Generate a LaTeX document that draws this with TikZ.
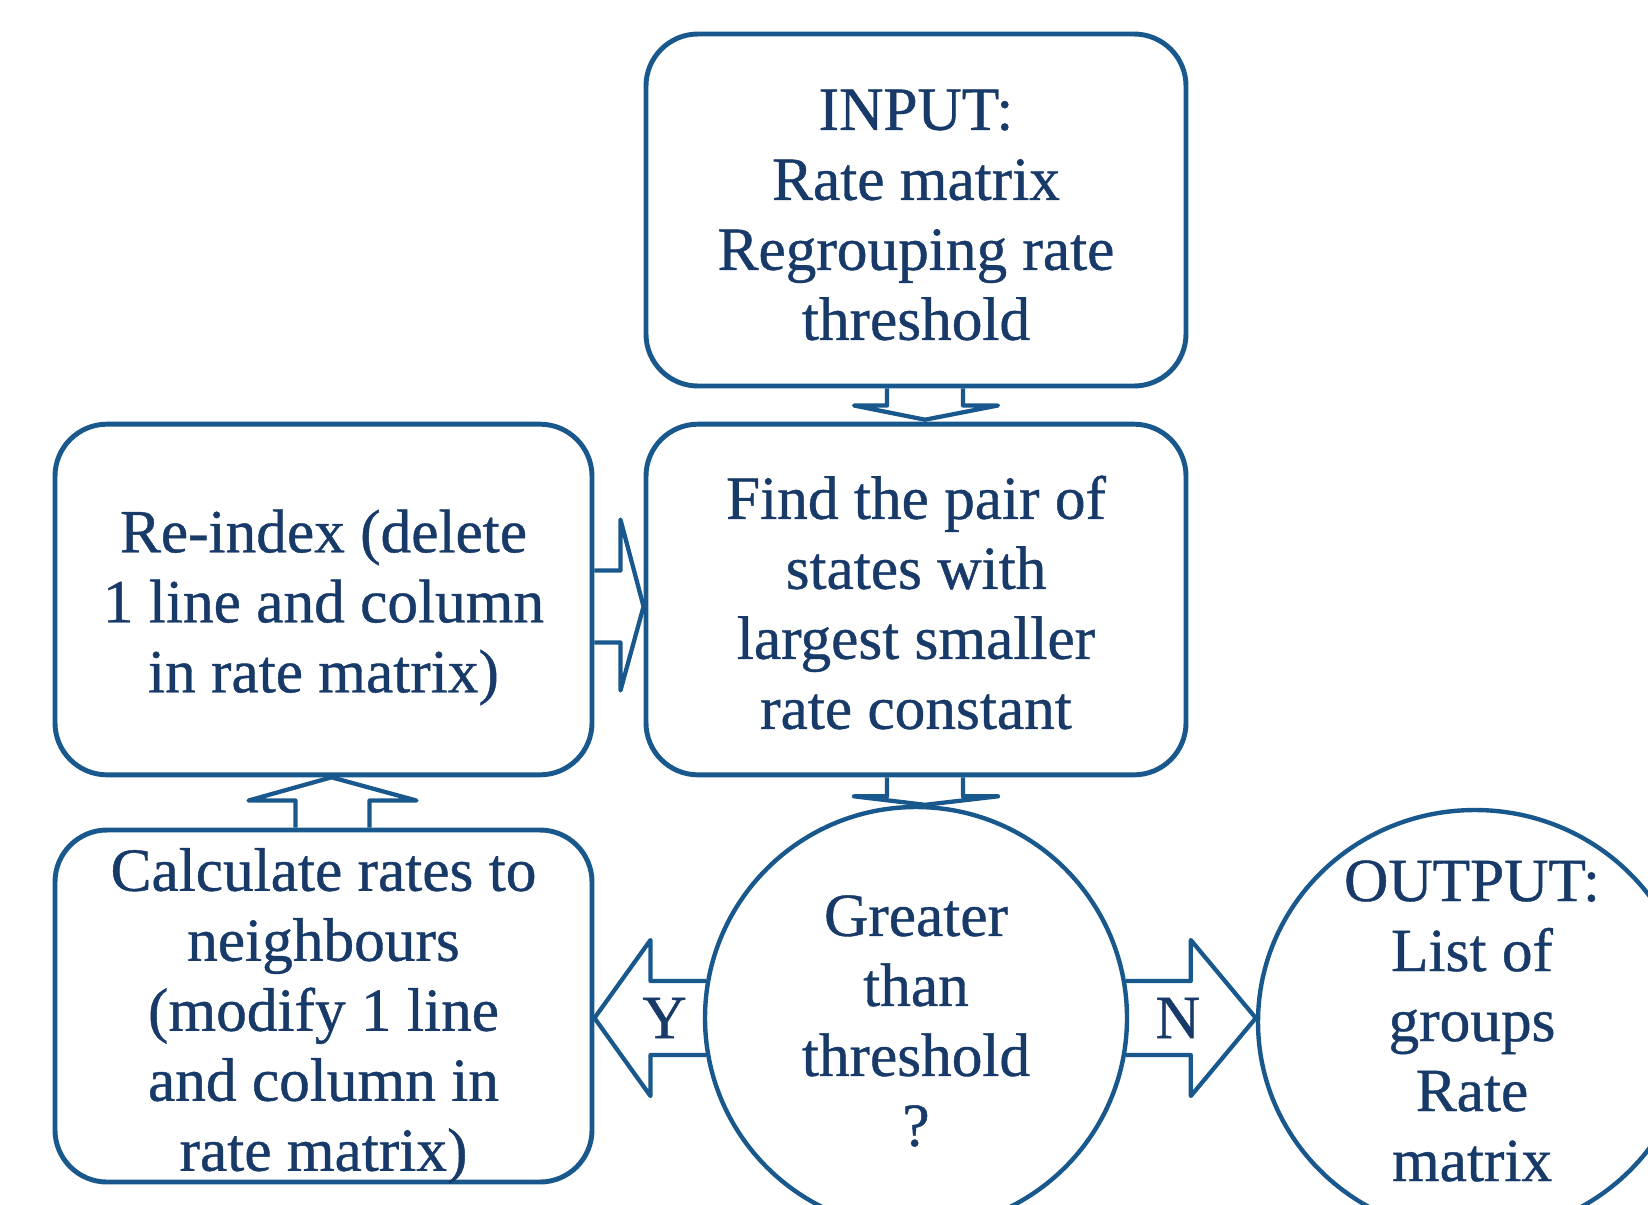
\documentclass[tikz,border=0pt]{standalone}
\usepackage{fontspec}
\setmainfont{Liberation Serif}
\newfontfamily\diagfont{Liberation Serif}[FakeBold=0.7]
\usetikzlibrary{calc,shapes.geometric}
\definecolor{edgeblue}{RGB}{24,88,140}
\definecolor{textblue}{RGB}{24,58,104}
\begin{document}
\begin{tikzpicture}[x=0.75pt,y=-0.75pt,
  txt/.style={align=center,text=textblue,font=\diagfont\fontsize{46}{52.5}\selectfont,inner sep=0pt},
  boxnode/.style={draw=edgeblue,line width=3.7pt,rounded corners=39pt,inner sep=0pt},
  ringnode/.style={draw=edgeblue,line width=3.3pt,inner sep=0pt},
  arrowline/.style={draw=edgeblue,line width=3.2pt,line join=round}]
\useasboundingbox (0,0) rectangle (1648,1204);
\clip (0,0) rectangle (1648,1204);

\node[boxnode,minimum width=405pt,minimum height=264pt] (in) at (916,210) {};
\node[txt] (int) at ($(in.center)+(0,5)$) {INPUT:\\Rate matrix\\Regrouping rate\\threshold};
\node[boxnode,minimum width=405pt,minimum height=263pt] (find) at (916,599.5) {};
\node[txt] (findt) at ($(find.center)+(0,3)$) {Find the pair of\\states with\\largest smaller\\rate constant};
\node[boxnode,minimum width=402.75pt,minimum height=263pt] (reidx) at (323.5,599.5) {};
\node[txt] (reidxt) at ($(reidx.center)+(0,8)$) {Re-index (delete\\1 line and column\\in rate matrix)};
\node[boxnode,minimum width=402.75pt,minimum height=264pt] (calc) at (323.5,1006) {};
\node[txt] (calct) at ($(calc.center)+(0,10)$) {Calculate rates to\\neighbours\\(modify 1 line\\and column in\\rate matrix)};

\node[ringnode,circle,minimum size=316.5pt] (gt) at (916,1018) {};
\node[txt] (gtt) at ($(gt.center)+(0,3)$) {Greater\\than\\threshold\\?};
\node[ringnode,ellipse,minimum width=325.5pt,minimum height=318pt] (out) at (1475,1022) {};
\node[txt] (outt) at ($(out.center)+(-3,-1)$) {OUTPUT:\\List of\\groups\\Rate\\matrix};

% INPUT -> Find
\draw[arrowline] ($(in.south)+(-29,0)$) -- ($(in.south)+(-29,17)$) -- ($(in.south)+(-62,17)$)
  -- ($(find.north)+(9,-2)$) -- ($(in.south)+(82,17)$) -- ($(in.south)+(47,17)$) -- ($(in.south)+(47,0)$);
% Find -> Greater
\draw[arrowline] ($(find.south)+(-29,0)$) -- ($(find.south)+(-29,19)$) -- ($(find.south)+(-62,19)$)
  -- ($(gt.north)+(9,0)$) -- ($(find.south)+(82,19)$) -- ($(find.south)+(47,19)$) -- ($(find.south)+(47,0)$);
% Re-index -> Find
\draw[arrowline] ($(reidx.east)+(0,-29)$) -- ($(reidx.east)+(26,-29)$) -- ($(reidx.east)+(26,-80)$)
  -- ($(find.west)+(0,7)$) -- ($(reidx.east)+(26,91)$) -- ($(reidx.east)+(26,43)$) -- ($(reidx.east)+(0,43)$);
% Calculate -> Re-index
\draw[arrowline] ($(calc.north)+(-28,0)$) -- ($(calc.north)+(-28,-27)$) -- ($(calc.north)+(-75,-27)$)
  -- ($(reidx.south)+(8,0)$) -- ($(calc.north)+(93,-27)$) -- ($(calc.north)+(46,-27)$) -- ($(calc.north)+(46,0)$);
% Greater -> Calculate (Y)
\coordinate (ytip) at (calc.east |- gt.center);
\coordinate (yb) at ($(ytip)+(56,0)$);
\draw[arrowline] (gt.170) -- (yb |- gt.170) -- ($(yb)+(0,-78)$) -- (ytip)
  -- ($(yb)+(0,78)$) -- (yb |- gt.190) -- (gt.190);
\node[txt] (ylab) at ($(ytip)+(70,0)$) {Y};
% Greater -> Output (N)
\coordinate (ntip) at (out.west |- gt.center);
\coordinate (nb) at ($(ntip)+(-65,0)$);
\draw[arrowline] (gt.10) -- (nb |- gt.10) -- ($(nb)+(0,-78)$) -- (ntip)
  -- ($(nb)+(0,78)$) -- (nb |- gt.350) -- (gt.350);
\node[txt] (nlab) at ($(ntip)+(-78,0)$) {N};
\end{tikzpicture}
\end{document}
